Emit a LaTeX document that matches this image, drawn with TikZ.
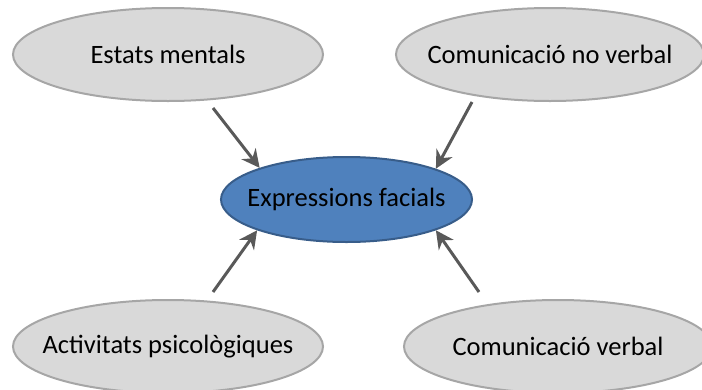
\documentclass[tikz,border=0pt]{standalone}
\usepackage{fontspec}
\setmainfont{Carlito}
\usetikzlibrary{shapes.geometric,arrows.meta}
\definecolor{ovalfill}{HTML}{D9D9D9}
\definecolor{ovalline}{HTML}{A6A6A6}
\definecolor{hubfill}{HTML}{4F81BD}
\definecolor{hubline}{HTML}{385D8A}
\definecolor{arrowgray}{HTML}{595959}
% label of fixed zero width, so the ellipse size comes from the style only
\newcommand{\ovallabel}[1]{\makebox[0pt]{#1}}
\tikzset{
  oval/.style={ellipse, draw=ovalline, fill=ovalfill, line width=2pt, inner sep=0pt,
    minimum width=310pt, minimum height=93pt, font=\fontsize{26.5}{30}\selectfont},
  hub/.style={ellipse, draw=hubline, fill=hubfill, line width=2pt, inner sep=0pt,
    minimum width=251pt, minimum height=85pt, font=\fontsize{26.5}{30}\selectfont},
  link/.style={draw=arrowgray, line width=3pt,
    -{Stealth[length=18pt,width=18pt,inset=6pt]}}
}
\begin{document}
\begin{tikzpicture}[x=1pt,y=-1pt]
  \useasboundingbox (0,0) rectangle (702,389);
  \clip (0,0) rectangle (702,389);
  % outer concepts
  \node[oval] (mental) at (168,54.5) {\ovallabel{Estats mentals}};
  \node[oval, minimum width=308pt] (noverbal) at (550,54.5) {\ovallabel{Comunicació no verbal}};
  \node[oval] (psico) at (168,346.5) {\ovallabel{Activitats psicològiques}};
  \node[oval, minimum width=308pt] (verbal) at (558,346.5) {\ovallabel{Comunicació verbal}};
  % central concept
  \node[hub] (expr) at (346.5,199.5) {\ovallabel{Expressions facials}};
  % arrow starting points
  \coordinate (s1) at (213,108);
  \coordinate (s2) at (472,102);
  \coordinate (s3) at (213,292);
  \coordinate (s4) at (479,292);
  % arrows into the central concept
  \draw[link] (s1) -- (expr.160);
  \draw[link] (s2) -- (expr.19);
  \draw[link] (s3) -- (expr.-161);
  \draw[link] (s4) -- (expr.-19);
\end{tikzpicture}
\end{document}
